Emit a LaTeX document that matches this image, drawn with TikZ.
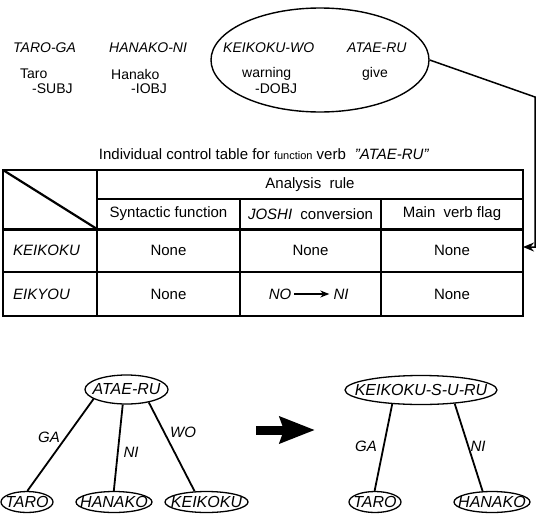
\documentclass[tikz,border=0pt]{standalone}
\usepackage{fontspec}
\setmainfont{Liberation Sans}
\usetikzlibrary{arrows.meta,shapes.geometric}

\begin{document}
\begin{tikzpicture}[x=1pt,y=-1pt,
  jp/.style={font=\fontsize{14}{16}\selectfont\itshape, anchor=west, inner sep=0},
  gloss/.style={font=\fontsize{14}{16}\selectfont, anchor=west, inner sep=0},
  cell/.style={font=\fontsize{15}{17}\selectfont, inner sep=0},
  rowlab/.style={font=\fontsize{15}{17}\selectfont\itshape, anchor=west, inner sep=0},
  frame/.style={line width=1.5pt},
  heavy/.style={line width=3pt},
  tnode/.style={ellipse, draw, line width=1.3pt, inner sep=0, minimum height=21pt},
  tword/.style={font=\fontsize{16}{18}\selectfont\itshape, inner sep=0},
  branch/.style={line width=1.8pt},
  blab/.style={font=\fontsize{15}{17}\selectfont\itshape, inner sep=0},
  conn/.style={line width=1.5pt, -{Stealth[length=11pt,width=9pt]}}
]
\useasboundingbox (0,0) rectangle (540,514);

% ---- the example sentence with glosses ----
\node[jp] (w1) at (13,47.5) {TARO-GA};
\node[jp] (w2) at (109,47.5) {HANAKO-NI};
\node[jp] (w3) at (223,47.5) {KEIKOKU-WO};
\node[jp] (w4) at (347,47.5) {ATAE-RU};
\node[gloss] (g1) at (20,74) {Taro};
\node[gloss] (g1b) at (32,89) {-SUBJ};
\node[gloss] (g2) at (111,74) {Hanako};
\node[gloss] (g2b) at (131,89) {-IOBJ};
\node[gloss] (g3) at (242,74) {warning};
\node[gloss] (g3b) at (255,89) {-DOBJ};
\node[gloss] (g4) at (362,74) {give};

% function-verb phrase circled
\node[ellipse, draw, line width=1.4pt, minimum width=218pt, minimum height=104pt, inner sep=0] (sent) at (320,60) {};

% ---- control table ----
\node[font=\fontsize{15}{17}\selectfont, inner sep=0] (title) at (264,154)
  {Individual control table for {\fontsize{11}{13}\selectfont function} verb\hspace{0.6em}\textit{"ATAE-RU"}};

\draw[frame] (3,170) rectangle (523,316);
\draw[frame] (97,199) -- (523,199);
\draw[heavy] (3,229) -- (523,229);
\draw[frame] (3,272) -- (523,272);
\draw[line width=2.2pt] (97,170) -- (97,316);
\draw[frame] (240,199) -- (240,316);
\draw[frame] (381,199) -- (381,316);
\draw[line width=2.2pt] (3,170) -- (97,229);

\node[cell] (hdr) at (310,184.5) {Analysis\hspace{0.55em}rule};
\node[cell] (h1) at (168.5,214) {Syntactic function};
\node[cell] (h2) at (310.5,214) {\textit{JOSHI}\hspace{0.55em}conversion};
\node[cell] (h3) at (452,214) {Main\hspace{0.55em}verb flag};

\node[rowlab] (r1) at (13,250.5) {KEIKOKU};
\node[rowlab] (r2) at (13,294) {EIKYOU};
\node[cell] (c11) at (168.5,250.5) {None};
\node[cell] (c12) at (310.5,250.5) {None};
\node[cell] (c13) at (452,250.5) {None};
\node[cell] (c21) at (168.5,294) {None};
\node[cell, font=\fontsize{15}{17}\selectfont\itshape] (no) at (280,294) {NO};
\node[cell, font=\fontsize{15}{17}\selectfont\itshape] (ni) at (341,294) {NI};
\draw[line width=1.2pt, -{Stealth[length=9pt,width=7pt]}] ([xshift=3pt]no.east) -- ([xshift=-4pt]ni.west);
\node[cell] (c23) at (452,294) {None};

% connector from the circled phrase into the table
\coordinate (bend) at (535,97);
\coordinate (entry) at (523,247);
\draw[conn] (sent.east) -- (bend) |- (entry);

% ---- dependency tree before the transformation ----
\node[tnode, minimum width=83pt, minimum height=29pt] (atae) at (126.5,389.5) {};
\node[tword] (atae-t) at (atae) {ATAE-RU};
\node[tnode, minimum width=52pt] (taroA) at (27,502) {};
\node[tword] (taroA-t) at (taroA) {TARO};
\node[tnode, minimum width=76pt] (hanakoA) at (114,502) {};
\node[tword] (hanakoA-t) at (hanakoA) {HANAKO};
\node[tnode, minimum width=83pt] (keikokuA) at (206.5,502) {};
\node[tword] (keikokuA-t) at (keikokuA) {KEIKOKU};
\draw[branch] (atae.196.7) -- (taroA.88);
\draw[branch] (atae.256.4) -- (hanakoA.91);
\draw[branch] (atae.330) -- (keikokuA.138.7);
\node[blab] (ga1) at (49,437) {GA};
\node[blab] (ni1) at (131,452) {NI};
\node[blab] (wo1) at (183,432) {WO};

% transformation arrow
\coordinate (tfrom) at (256,430);
\coordinate (tto) at (315,430);
\draw[line width=9pt, -{Stealth[length=35pt,width=26pt,inset=4pt]}] (tfrom) -- (tto);

% ---- dependency tree after the transformation ----
\node[tnode, minimum width=152pt, minimum height=29pt] (ksuru) at (421,390) {};
\node[tword] (ksuru-t) at (ksuru) {KEIKOKU-S-U-RU};
\node[tnode, minimum width=52pt] (taroB) at (375,502) {};
\node[tword] (taroB-t) at (taroB) {TARO};
\node[tnode, minimum width=76pt] (hanakoB) at (492,502) {};
\node[tword] (hanakoB-t) at (hanakoB) {HANAKO};
\draw[branch] (ksuru.206.6) -- (taroB.92);
\draw[branch] (ksuru.338.4) -- (hanakoB.131);
\node[blab] (ga2) at (366,446) {GA};
\node[blab] (ni2) at (478,446) {NI};
\end{tikzpicture}
\end{document}
